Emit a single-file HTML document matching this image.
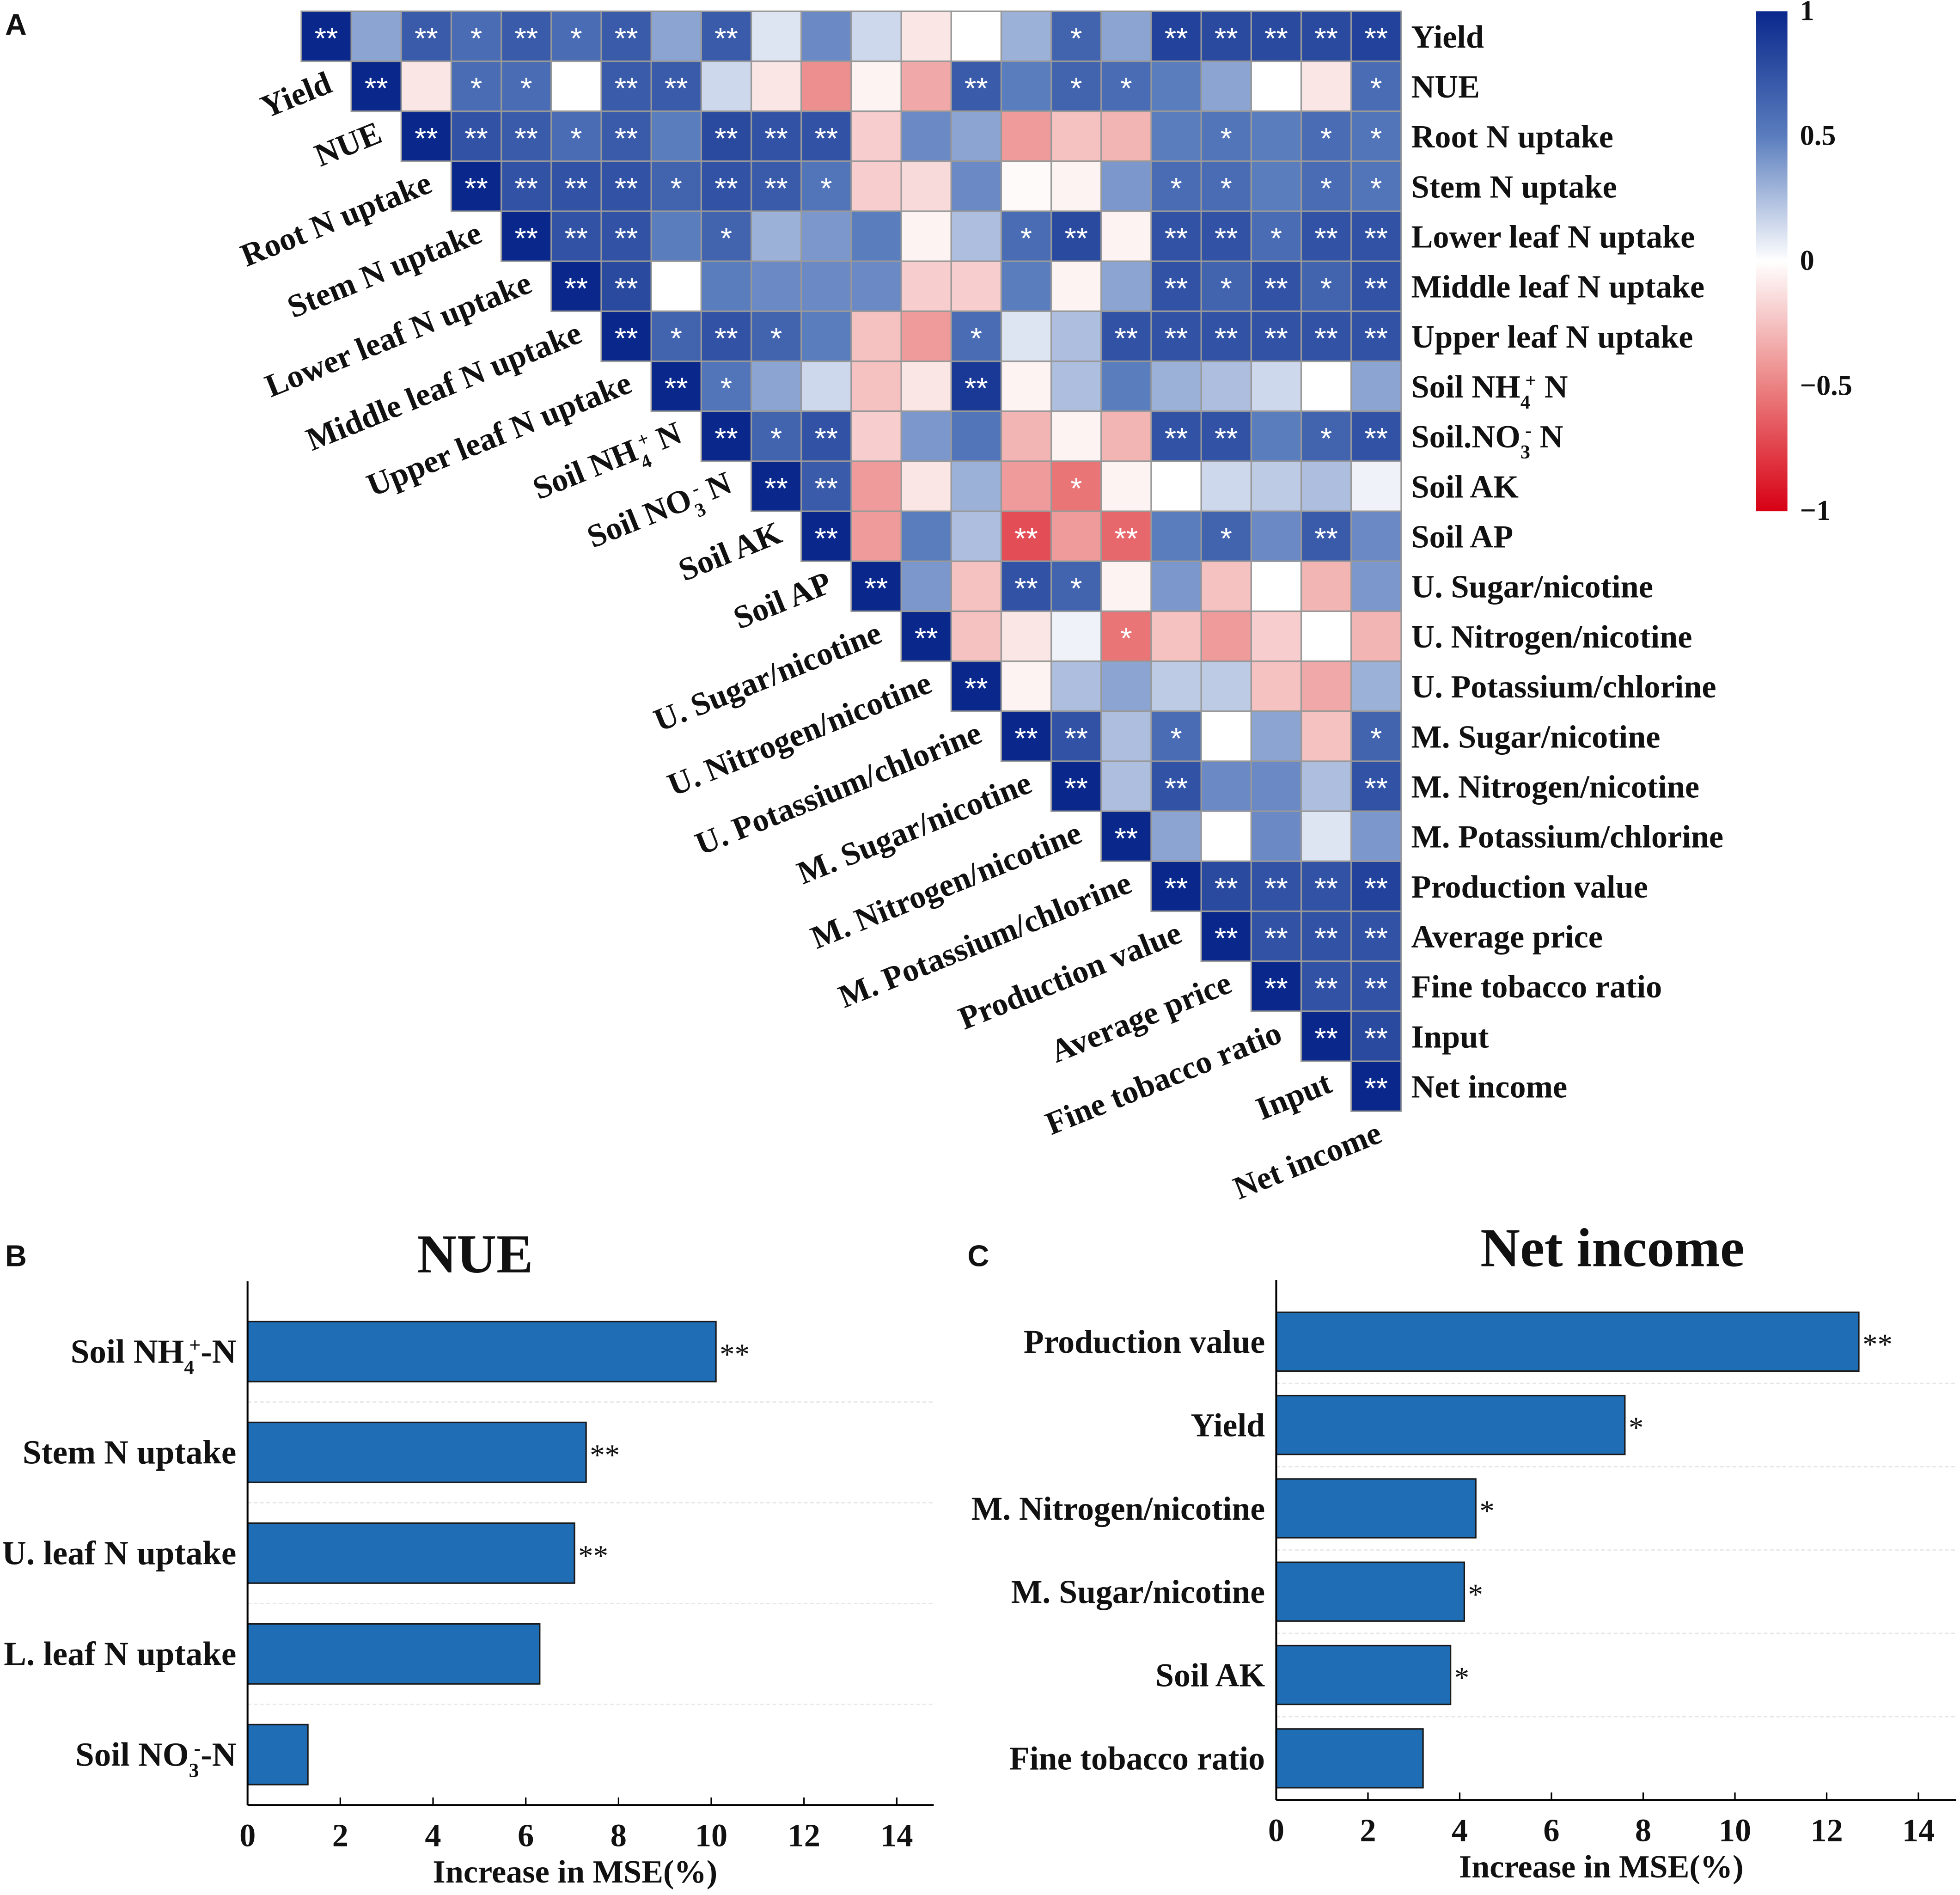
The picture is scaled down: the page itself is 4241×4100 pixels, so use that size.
<!DOCTYPE html>
<html><head><meta charset="utf-8"><style>
html,body{margin:0;padding:0;background:#fff;}
svg{display:block;}
text{font-family:"Liberation Serif",serif;font-weight:bold;fill:#111;}
</style></head><body>
<svg id="fig" width="4241" height="4100" viewBox="0 0 1568 1516" xmlns="http://www.w3.org/2000/svg">
<defs>
<linearGradient id="cbar" x1="0" y1="0" x2="0" y2="1">
<stop offset="0" stop-color="rgb(10,40,140)"/><stop offset="0.25" stop-color="rgb(90,125,190)"/>
<stop offset="0.5" stop-color="#ffffff"/><stop offset="0.75" stop-color="rgb(235,130,130)"/>
<stop offset="1" stop-color="rgb(215,0,20)"/></linearGradient>
</defs>
<g id="heat"></g>
<g id="barB"></g>
<g id="barC"></g>
</svg>
<script>
const NS="http://www.w3.org/2000/svg";
const varNames=["Yield","NUE","Root N uptake","Stem N uptake","Lower leaf N uptake","Middle leaf N uptake","Upper leaf N uptake","Soil NH4+ N","Soil NO3- N","Soil AK","Soil AP","U. Sugar/nicotine","U. Nitrogen/nicotine","U. Potassium/chlorine","M. Sugar/nicotine","M. Nitrogen/nicotine","M. Potassium/chlorine","Production value","Average price","Fine tobacco ratio","Input","Net income"];
// upper triangle rows: row i holds columns i..21
const corrRows=[
[1,0.35,0.7,0.6,0.7,0.6,0.7,0.35,0.7,0.1,0.45,0.15,-0.1,0,0.3,0.65,0.35,0.85,0.8,0.8,0.8,0.85],
[1,-0.1,0.6,0.6,0,0.7,0.7,0.15,-0.1,-0.45,-0.05,-0.35,0.7,0.5,0.65,0.6,0.5,0.35,0,-0.1,0.6],
[1,0.75,0.7,0.6,0.7,0.5,0.8,0.75,0.75,-0.2,0.45,0.35,-0.4,-0.25,-0.3,0.5,0.55,0.5,0.6,0.55],
[1,0.75,0.75,0.75,0.65,0.75,0.7,0.55,-0.2,-0.15,0.45,-0.02,-0.05,0.4,0.6,0.6,0.5,0.6,0.55],
[1,0.75,0.75,0.5,0.65,0.3,0.4,0.5,-0.05,0.25,0.6,0.8,-0.05,0.75,0.75,0.6,0.75,0.75],
[1,0.8,0,0.5,0.45,0.45,0.45,-0.2,-0.2,0.5,-0.05,0.35,0.75,0.65,0.75,0.65,0.75],
[1,0.65,0.75,0.65,0.5,-0.25,-0.4,0.6,0.1,0.25,0.75,0.75,0.75,0.75,0.75,0.75],
[1,0.55,0.35,0.15,-0.25,-0.1,0.9,-0.05,0.25,0.5,0.3,0.25,0.15,0,0.35],
[1,0.65,0.75,-0.2,0.4,0.55,-0.3,-0.05,-0.3,0.75,0.75,0.5,0.65,0.75],
[1,0.7,-0.4,-0.1,0.3,-0.4,-0.55,-0.05,0,0.15,0.2,0.25,0.05],
[1,-0.4,0.5,0.25,-0.7,-0.4,-0.6,0.5,0.65,0.45,0.7,0.45],
[1,0.4,-0.25,0.75,0.65,-0.05,0.4,-0.25,0,-0.3,0.4],
[1,-0.25,-0.1,0.05,-0.55,-0.25,-0.4,-0.2,0,-0.3],
[1,-0.05,0.25,0.35,0.2,0.2,-0.25,-0.35,0.3],
[1,0.75,0.25,0.6,0,0.35,-0.25,0.65],
[1,0.25,0.75,0.45,0.45,0.25,0.75],
[1,0.35,0,0.45,0.1,0.4],
[1,0.8,0.75,0.75,0.85],
[1,0.75,0.75,0.75],
[1,0.75,0.75],
[1,0.8],
[1]];
const sigRows=[
["**","","**","*","**","*","**","","**","","","","","","","*","","**","**","**","**","**"],
["**","","*","*","","**","**","","","","","","**","","*","*","","","","","*"],
["**","**","**","*","**","","**","**","**","","","","","","","","*","","*","*"],
["**","**","**","**","*","**","**","*","","","","","","","*","*","","*","*"],
["**","**","**","","*","","","","","","*","**","","**","**","*","**","**"],
["**","**","","","","","","","","","","","**","*","**","*","**"],
["**","*","**","*","","","","*","","","**","**","**","**","**","**"],
["**","*","","","","","**","","","","","","","",""],
["**","*","**","","","","","","","**","**","","*","**"],
["**","**","","","","","*","","","","","",""],
["**","","","","**","","**","","*","","**",""],
["**","","","**","*","","","","","",""],
["**","","","","*","","","","",""],
["**","","","","","","","",""],
["**","**","","*","","","","*"],
["**","","**","","","","**"],
["**","","","","",""],
["**","**","**","**","**"],
["**","**","**","**"],
["**","**","**"],
["**","**"],
["**"]];
// Bar chart B
const catsB=["Soil NH4+-N","Stem N uptake","U. leaf N uptake","L. leaf N uptake","Soil NO3--N"];
const valsB=[10.1,7.3,7.05,6.3,1.3];
const sigB=["**","**","**","",""];
// Bar chart C
const catsC=["Production value","Yield","M. Nitrogen/nicotine","M. Sugar/nicotine","Soil AK","Fine tobacco ratio"];
const valsC=[12.7,7.6,4.35,4.1,3.8,3.2];
const sigC=["**","*","*","*","*",""];
const ticks=[0,2,4,6,8,10,12,14];
const cbTicks=[1,0.5,0,-0.5,-1];

function mk(tag,attrs,parent){const e=document.createElementNS(NS,tag);for(const k in attrs)e.setAttribute(k,attrs[k]);if(parent)parent.appendChild(e);return e;}
function lerp(a,b,t){return a.map((v,i)=>Math.round(v+(b[i]-v)*t));}
function color(v){
  const s=[[-1,[215,0,20]],[-0.5,[235,130,130]],[0,[255,255,255]],[0.5,[90,125,190]],[1,[10,40,140]]];
  v=Math.max(-1,Math.min(1,v));
  for(let i=0;i<4;i++){if(v<=s[i+1][0]){const c=lerp(s[i][1],s[i+1][1],(v-s[i][0])/0.5);return `rgb(${c[0]},${c[1]},${c[2]})`;}}
  return "rgb(10,40,140)";
}
function labelText(t,name){
  const m=name.match(/^(Soil\.? ?)(NH|NO)(4|3)([+-])(.*)$/);
  if(!m){t.textContent=name;return;}
  const a=mk("tspan",{},t);a.textContent=m[1]+m[2];
  const b=mk("tspan",{"baseline-shift":"sub","font-size":"0.6em"},t);b.textContent=m[3];
  const c=mk("tspan",{"baseline-shift":"super","font-size":"0.6em","dx":"-4"},t);c.textContent=m[4];
  const d=mk("tspan",{},t);d.textContent=m[5];
}
// ---- Heatmap
const H=document.getElementById("heat");
const X0=241,Y0=9,CS=40,N=varNames.length;
const cx=c=>X0+c*CS, cy=r=>Y0+r*CS;
const pa=mk("text",{x:4,y:28,"font-size":24,style:"font-family:'Liberation Sans',sans-serif"},H);
pa.textContent="A";


for(let r=0;r<N;r++){
  for(let k=0;k<corrRows[r].length;k++){
    const c=r+k;
    const rect=mk("rect",{x:cx(c),y:cy(r),width:CS,height:CS,fill:color(corrRows[r][k]),stroke:"#999","stroke-width":1.2},H);
    
    
    const s=sigRows[r][k];
    if(s){
      const t=mk("text",{x:cx(c)+CS/2,y:cy(r)+CS/2+10,"text-anchor":"middle","font-size":24,style:"fill:#fff;font-family:'Liberation Sans',sans-serif;font-weight:normal"},H);
      t.textContent=s;
      
      
    }
  }
  const rl=mk("text",{x:X0+N*CS+8,y:cy(r)+CS/2+9,"font-size":26},H);
  labelText(rl,r===8?"Soil.NO3- N":varNames[r]);
  
  
  const ax=cx(r)+26, ay=cy(r)+CS+24;
  const dl=mk("text",{x:ax,y:ay,"font-size":26,"text-anchor":"end",transform:`rotate(-22 ${ax} ${ay})`},H);
  labelText(dl,varNames[r]);
  
  
}
const cb=mk("rect",{x:1405,y:9,width:25,height:400,fill:"url(#cbar)"},H);


cbTicks.forEach(v=>{
  const y=9+(1-v)/2*400;
  const t=mk("text",{x:1440,y:y+7,"font-size":23},H);
  t.textContent=v<0?"\u2212"+Math.abs(v):String(v);
  
  
});
// ---- Bar charts
function barChart(g,o){
  const sx=v=>o.x0+v*o.unit;
  const pl=mk("text",{x:o.px,y:o.py,"font-size":24,style:"font-family:'Liberation Sans',sans-serif"},g);
  pl.textContent=o.panel;
  
  
  const ti=mk("text",{x:o.tx,y:o.ty,"font-size":44,"text-anchor":"middle"},g);
  ti.textContent=o.title;
  
  
  const n=o.cats.length, step=(o.yb-o.yt)/n;
  for(let i=1;i<n;i++){
    const gl=mk("line",{x1:o.x0,x2:o.xe,y1:o.yt+i*step,y2:o.yt+i*step,stroke:"#e6e6e6","stroke-width":1,"stroke-dasharray":"3 2"},g);
    
    
  }
  o.cats.forEach((c,i)=>{
    const yc=o.yt+(i+0.5)*step;
    const b=mk("rect",{x:o.x0,y:yc-o.bh/2,width:sx(o.vals[i])-o.x0,height:o.bh,fill:"#1f6db4",stroke:"#1a1a1a","stroke-width":1.2},g);
    
    
    const l=mk("text",{x:o.x0-9,y:yc+9,"font-size":o.fs,"text-anchor":"end"},g);
    labelText(l,c);
    
    
    if(o.sig[i]){
      const s=mk("text",{x:sx(o.vals[i])+3,y:yc+10,"font-size":24,style:"font-weight:normal"},g);
      s.textContent=o.sig[i];
      
      
    }
  });
  const ya=mk("line",{x1:o.x0,x2:o.x0,y1:o.yt-16,y2:o.yb,stroke:"#000","stroke-width":1.5},g);
  
  
  const xa=mk("line",{x1:o.x0,x2:o.xe,y1:o.yb,y2:o.yb,stroke:"#000","stroke-width":1.5},g);
  
  
  ticks.forEach(v=>{
    const tk=mk("line",{x1:sx(v),x2:sx(v),y1:o.yb,y2:o.yb-6,stroke:"#000","stroke-width":1.2},g);
    
    
    const tl=mk("text",{x:sx(v),y:o.yb+33,"font-size":26,"text-anchor":"middle"},g);
    tl.textContent=v;
    
    
  });
  const at=mk("text",{x:o.ax,y:o.yb+62,"font-size":26,"text-anchor":"middle"},g);
  at.textContent="Increase in MSE(%)";
  
  
}
barChart(document.getElementById("barB"),{panel:"B",px:4,py:1013,title:"NUE",tx:380,ty:1018,x0:198,unit:37.1,xe:747,yt:1041,yb:1444,bh:48,fs:27,cats:catsB,vals:valsB,sig:sigB,ax:460});
barChart(document.getElementById("barC"),{panel:"C",px:774,py:1013,title:"Net income",tx:1290,ty:1013,x0:1021,unit:36.7,xe:1565,yt:1040,yb:1440,bh:47,fs:26.5,cats:catsC,vals:valsC,sig:sigC,ax:1281});
</script>
</body></html>
